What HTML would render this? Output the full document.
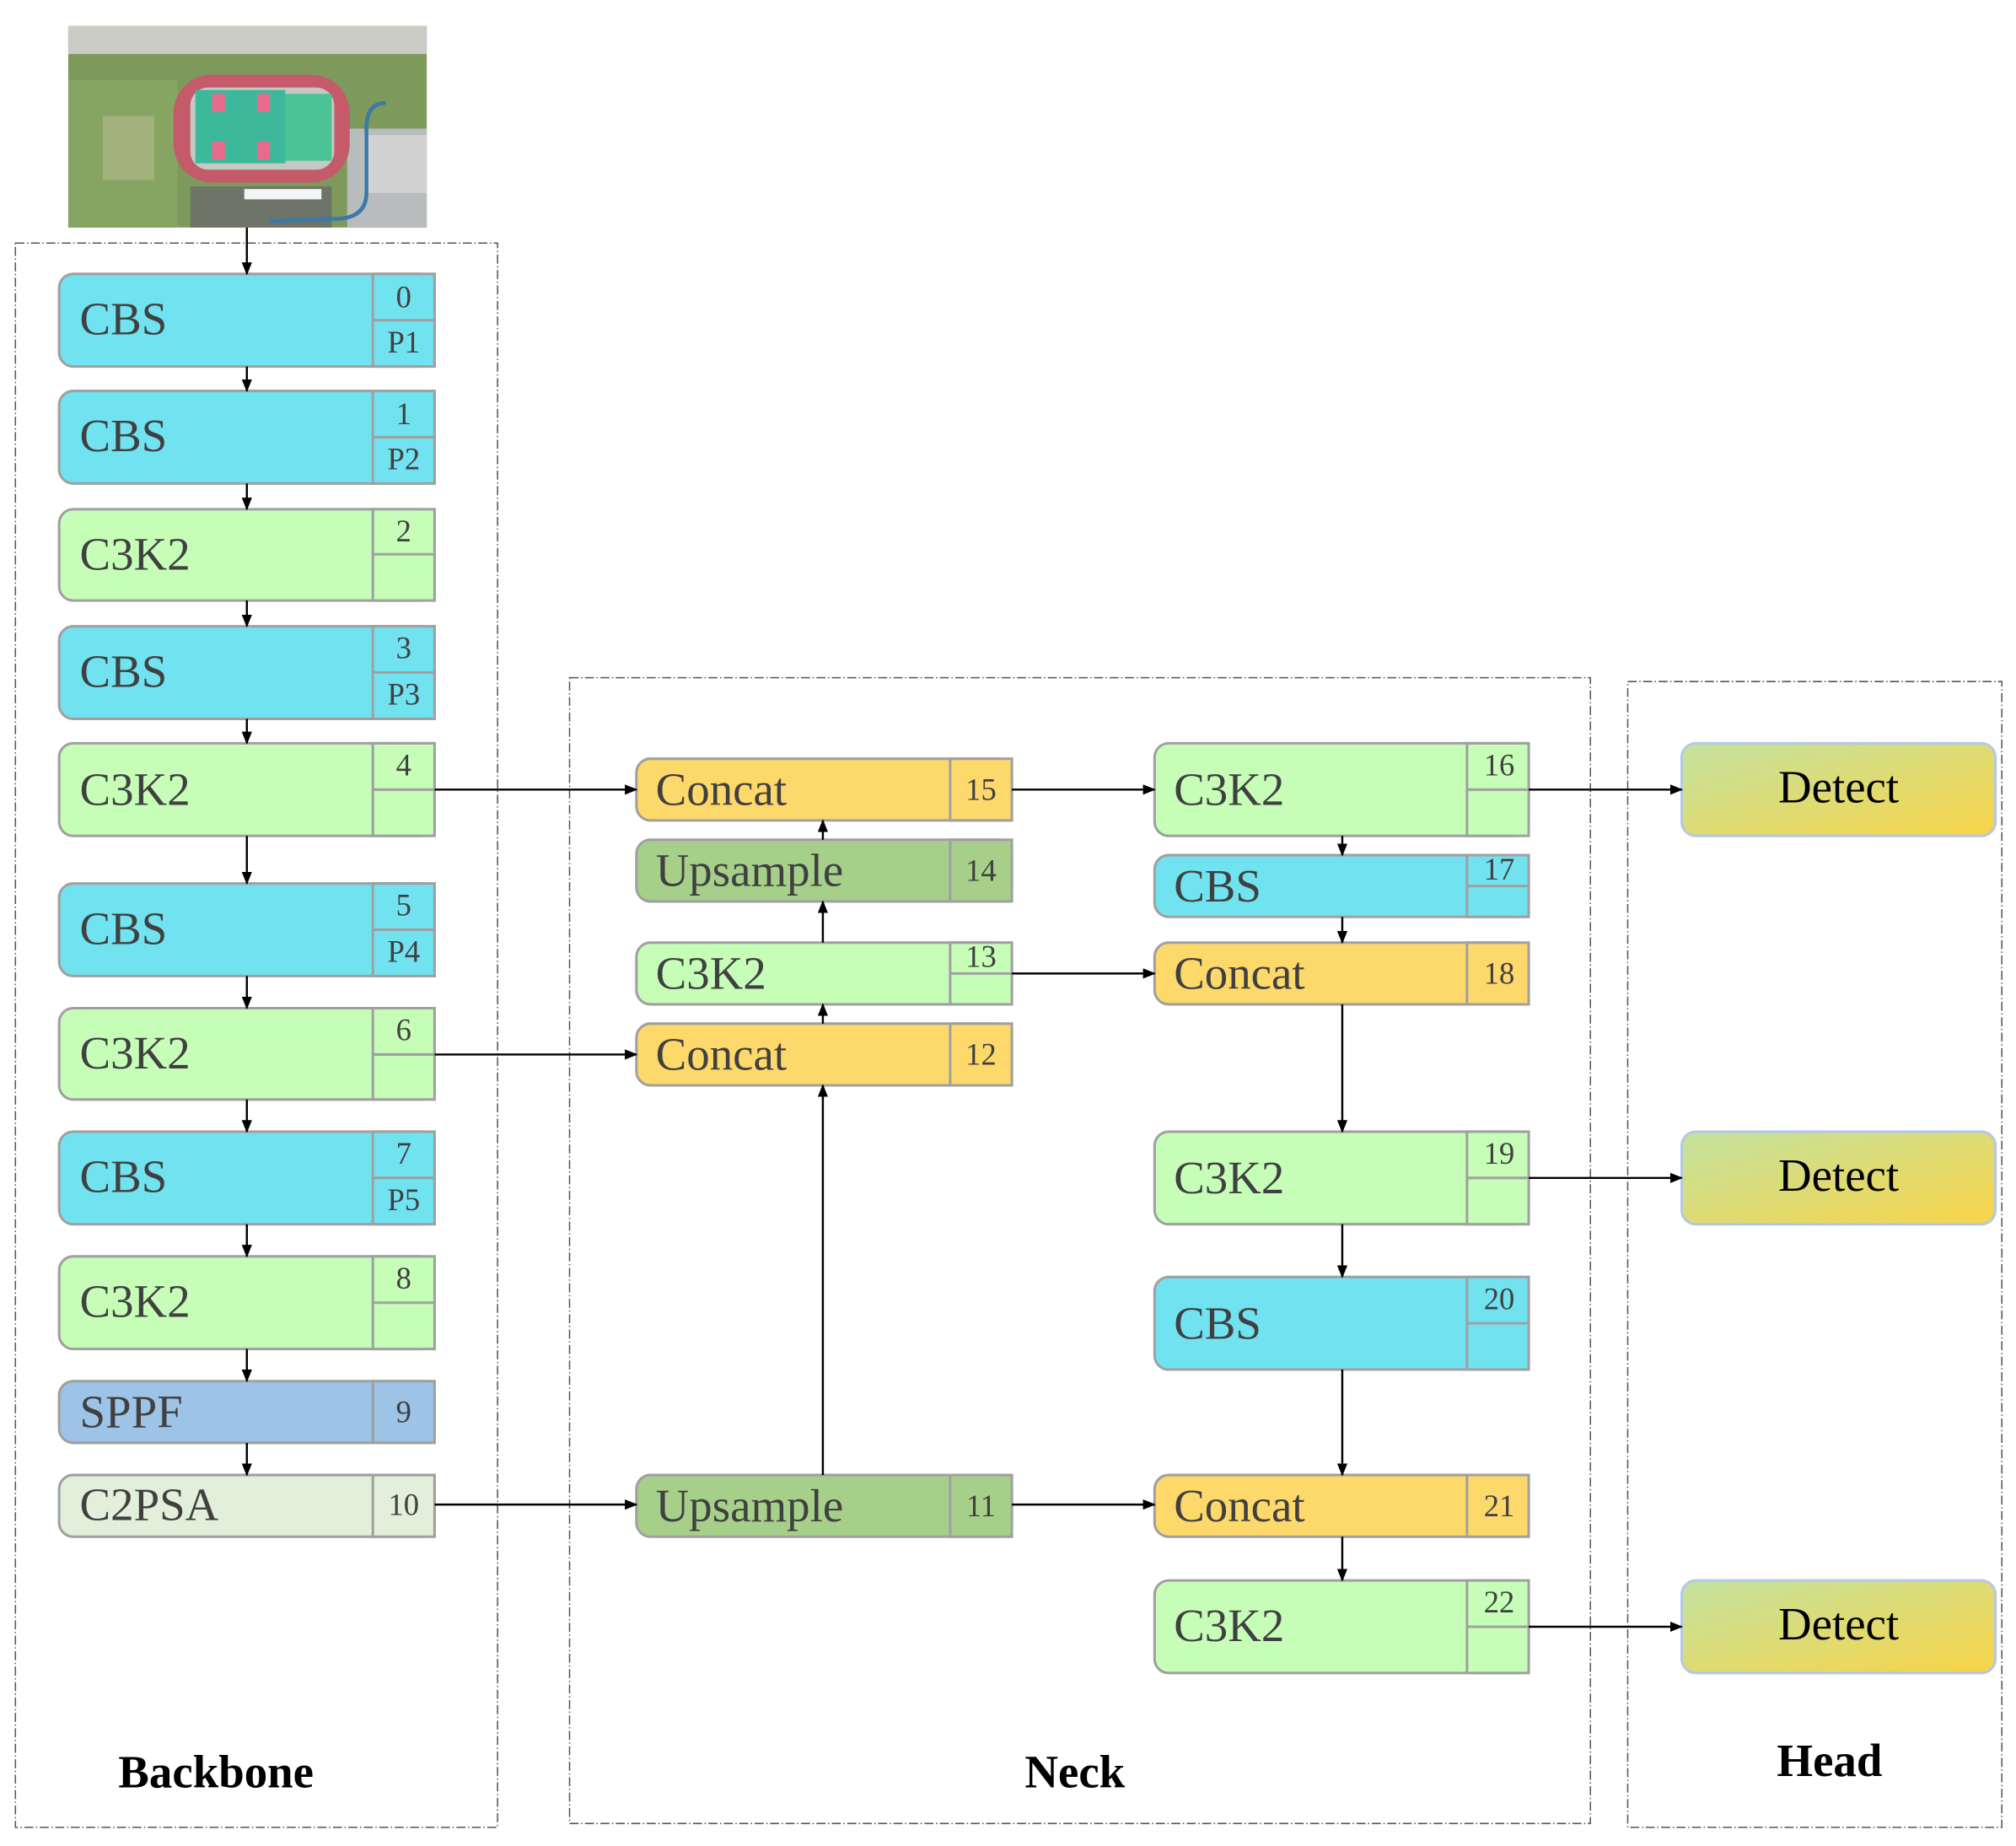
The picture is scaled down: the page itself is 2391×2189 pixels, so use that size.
<!DOCTYPE html>
<html><head><meta charset="utf-8"><style>
html,body{margin:0;padding:0;background:#fff}
svg{display:block}
.t{font-family:"Liberation Serif",serif;fill:#404040;font-size:36px}
.n{font-family:"Liberation Serif",serif;fill:#404040;font-size:24px;text-anchor:middle}
.b{font-family:"Liberation Serif",serif;fill:#000;font-size:36px;font-weight:bold;text-anchor:middle}
.d{font-family:"Liberation Serif",serif;fill:#000;font-size:36px;text-anchor:middle}
.s{stroke:#a0a0a0;stroke-width:2}
.a{stroke:#000;stroke-width:1.6;fill:none;marker-end:url(#ah)}
.g{fill:none;stroke:#555;stroke-width:1;stroke-dasharray:7,2,1,2}
</style></head><body>
<svg width="2391" height="2189" viewBox="0 0 1568 1435.5" preserveAspectRatio="none" xmlns="http://www.w3.org/2000/svg">
<defs>
<marker id="ah" markerWidth="10" markerHeight="8" refX="9" refY="4" orient="auto" markerUnits="userSpaceOnUse"><path d="M0,0 L10,4 L0,8 z" fill="#000"/></marker>
<linearGradient id="dg" x1="0" y1="0" x2="1" y2="1"><stop offset="0" stop-color="#c3e2a0"/><stop offset="1" stop-color="#f8d448"/></linearGradient>
<clipPath id="ic"><rect x="53" y="20" width="279" height="157"/></clipPath>
</defs>
<g clip-path="url(#ic)">
<rect x="53" y="20" width="279" height="157" fill="#7d9a5c"/>
<rect x="53" y="20" width="279" height="22" fill="#c9cbc4"/>
<rect x="53" y="62" width="85" height="115" fill="#86a462"/>
<rect x="80" y="90" width="40" height="50" fill="#a2b27c"/>
<rect x="270" y="100" width="62" height="77" fill="#b8bcbc"/>
<rect x="283" y="105" width="49" height="45" fill="#d2d2d2"/>
<rect x="148" y="145" width="110" height="32" fill="#6f7468"/>
<rect x="190" y="147" width="60" height="8" fill="#f4f4f4"/>
<rect x="135" y="58" width="137" height="84" rx="30" fill="#c45a6a"/>
<rect x="148" y="68" width="112" height="64" rx="14" fill="#c5c9c4"/>
<rect x="152" y="70" width="70" height="57" fill="#3cb89a"/>
<rect x="222" y="73" width="36" height="52" fill="#4cc397"/>
<rect x="165" y="73" width="10" height="14" fill="#e86b8c"/><rect x="200" y="73" width="10" height="14" fill="#e86b8c"/>
<rect x="165" y="110" width="10" height="14" fill="#e86b8c"/><rect x="200" y="110" width="10" height="14" fill="#e86b8c"/>
<path d="M300,80 Q285,80 285,100 L285,150 Q285,168 265,170 L210,172" stroke="#3a79a8" stroke-width="3" fill="none"/>
</g>
<rect class="g" x="12" y="189" width="375" height="1232"/>
<rect class="g" x="443" y="527" width="794" height="891"/>
<rect class="g" x="1266" y="530" width="291" height="891"/>
<text class="b" x="168" y="1390">Backbone</text>
<text class="b" x="836" y="1390">Neck</text>
<text class="b" x="1423" y="1381">Head</text>

<g class="s">
<rect x="46" y="213" width="292" height="72" rx="11" fill="#71e2f0"/><rect x="290" y="213" width="48" height="72" fill="#71e2f0"/><line x1="290" y1="249" x2="338" y2="249"/>
<rect x="46" y="304" width="292" height="72" rx="11" fill="#71e2f0"/><rect x="290" y="304" width="48" height="72" fill="#71e2f0"/><line x1="290" y1="340" x2="338" y2="340"/>
<rect x="46" y="396" width="292" height="71" rx="11" fill="#c6feb8"/><rect x="290" y="396" width="48" height="71" fill="#c6feb8"/><line x1="290" y1="431" x2="338" y2="431"/>
<rect x="46" y="487" width="292" height="72" rx="11" fill="#71e2f0"/><rect x="290" y="487" width="48" height="72" fill="#71e2f0"/><line x1="290" y1="523" x2="338" y2="523"/>
<rect x="46" y="578" width="292" height="72" rx="11" fill="#c6feb8"/><rect x="290" y="578" width="48" height="72" fill="#c6feb8"/><line x1="290" y1="614" x2="338" y2="614"/>
<rect x="46" y="687" width="292" height="72" rx="11" fill="#71e2f0"/><rect x="290" y="687" width="48" height="72" fill="#71e2f0"/><line x1="290" y1="723" x2="338" y2="723"/>
<rect x="46" y="784" width="292" height="71" rx="11" fill="#c6feb8"/><rect x="290" y="784" width="48" height="71" fill="#c6feb8"/><line x1="290" y1="820" x2="338" y2="820"/>
<rect x="46" y="880" width="292" height="72" rx="11" fill="#71e2f0"/><rect x="290" y="880" width="48" height="72" fill="#71e2f0"/><line x1="290" y1="916" x2="338" y2="916"/>
<rect x="46" y="977" width="292" height="72" rx="11" fill="#c6feb8"/><rect x="290" y="977" width="48" height="72" fill="#c6feb8"/><line x1="290" y1="1013" x2="338" y2="1013"/>
<rect x="46" y="1074" width="292" height="48" rx="11" fill="#9dc3e6"/><rect x="290" y="1074" width="48" height="48" fill="#9dc3e6"/>
<rect x="46" y="1147" width="292" height="48" rx="11" fill="#e2efda"/><rect x="290" y="1147" width="48" height="48" fill="#e2efda"/>
</g>
<text class="t" x="62" y="260">CBS</text><text class="n" x="314" y="239">0</text><text class="n" x="314" y="274">P1</text>
<text class="t" x="62" y="351">CBS</text><text class="n" x="314" y="330">1</text><text class="n" x="314" y="365">P2</text>
<text class="t" x="62" y="443">C3K2</text><text class="n" x="314" y="421">2</text>
<text class="t" x="62" y="534">CBS</text><text class="n" x="314" y="512">3</text><text class="n" x="314" y="548">P3</text>
<text class="t" x="62" y="626">C3K2</text><text class="n" x="314" y="603">4</text>
<text class="t" x="62" y="734">CBS</text><text class="n" x="314" y="712">5</text><text class="n" x="314" y="748">P4</text>
<text class="t" x="62" y="831">C3K2</text><text class="n" x="314" y="809">6</text>
<text class="t" x="62" y="927">CBS</text><text class="n" x="314" y="905">7</text><text class="n" x="314" y="941">P5</text>
<text class="t" x="62" y="1024">C3K2</text><text class="n" x="314" y="1002">8</text>
<text class="t" x="62" y="1110">SPPF</text><text class="n" x="314" y="1106">9</text>
<text class="t" x="62" y="1182">C2PSA</text><text class="n" x="314" y="1178">10</text>

<g class="s">
<rect x="495" y="590" width="292" height="48" rx="11" fill="#fdd86a"/><rect x="739" y="590" width="48" height="48" fill="#fdd86a"/>
<rect x="495" y="653" width="292" height="48" rx="11" fill="#a6d08a"/><rect x="739" y="653" width="48" height="48" fill="#a6d08a"/>
<rect x="495" y="733" width="292" height="48" rx="11" fill="#c6feb8"/><rect x="739" y="733" width="48" height="48" fill="#c6feb8"/><line x1="739" y1="757" x2="787" y2="757"/>
<rect x="495" y="796" width="292" height="48" rx="11" fill="#fdd86a"/><rect x="739" y="796" width="48" height="48" fill="#fdd86a"/>
<rect x="495" y="1147" width="292" height="48" rx="11" fill="#a6d08a"/><rect x="739" y="1147" width="48" height="48" fill="#a6d08a"/>
</g>
<text class="t" x="510" y="626">Concat</text><text class="n" x="763" y="622">15</text>
<text class="t" x="510" y="689">Upsample</text><text class="n" x="763" y="685">14</text>
<text class="t" x="510" y="769">C3K2</text><text class="n" x="763" y="752">13</text>
<text class="t" x="510" y="832">Concat</text><text class="n" x="763" y="828">12</text>
<text class="t" x="510" y="1183">Upsample</text><text class="n" x="763" y="1179">11</text>

<g class="s">
<rect x="898" y="578" width="291" height="72" rx="11" fill="#c6feb8"/><rect x="1141" y="578" width="48" height="72" fill="#c6feb8"/><line x1="1141" y1="614" x2="1189" y2="614"/>
<rect x="898" y="665" width="291" height="48" rx="11" fill="#71e2f0"/><rect x="1141" y="665" width="48" height="48" fill="#71e2f0"/><line x1="1141" y1="689" x2="1189" y2="689"/>
<rect x="898" y="733" width="291" height="48" rx="11" fill="#fdd86a"/><rect x="1141" y="733" width="48" height="48" fill="#fdd86a"/>
<rect x="898" y="880" width="291" height="72" rx="11" fill="#c6feb8"/><rect x="1141" y="880" width="48" height="72" fill="#c6feb8"/><line x1="1141" y1="916" x2="1189" y2="916"/>
<rect x="898" y="993" width="291" height="72" rx="11" fill="#71e2f0"/><rect x="1141" y="993" width="48" height="72" fill="#71e2f0"/><line x1="1141" y1="1029" x2="1189" y2="1029"/>
<rect x="898" y="1147" width="291" height="48" rx="11" fill="#fdd86a"/><rect x="1141" y="1147" width="48" height="48" fill="#fdd86a"/>
<rect x="898" y="1229" width="291" height="72" rx="11" fill="#c6feb8"/><rect x="1141" y="1229" width="48" height="72" fill="#c6feb8"/><line x1="1141" y1="1265" x2="1189" y2="1265"/>
</g>
<text class="t" x="913" y="626">C3K2</text><text class="n" x="1166" y="603">16</text>
<text class="t" x="913" y="701">CBS</text><text class="n" x="1166" y="684">17</text>
<text class="t" x="913" y="769">Concat</text><text class="n" x="1166" y="765">18</text>
<text class="t" x="913" y="928">C3K2</text><text class="n" x="1166" y="905">19</text>
<text class="t" x="913" y="1041">CBS</text><text class="n" x="1166" y="1018">20</text>
<text class="t" x="913" y="1183">Concat</text><text class="n" x="1166" y="1179">21</text>
<text class="t" x="913" y="1276">C3K2</text><text class="n" x="1166" y="1254">22</text>

<g stroke="#b4c8e6" stroke-width="2" fill="url(#dg)">
<rect x="1308" y="578" width="244" height="72" rx="11"/>
<rect x="1308" y="880" width="244" height="72" rx="11"/>
<rect x="1308" y="1229" width="244" height="72" rx="11"/>
</g>
<text class="d" x="1430" y="624">Detect</text>
<text class="d" x="1430" y="926">Detect</text>
<text class="d" x="1430" y="1275">Detect</text>

<line class="a" x1="192" y1="177" x2="192" y2="213"/>
<line class="a" x1="192" y1="285" x2="192" y2="304"/>
<line class="a" x1="192" y1="376" x2="192" y2="396"/>
<line class="a" x1="192" y1="467" x2="192" y2="487"/>
<line class="a" x1="192" y1="559" x2="192" y2="578"/>
<line class="a" x1="192" y1="650" x2="192" y2="687"/>
<line class="a" x1="192" y1="759" x2="192" y2="784"/>
<line class="a" x1="192" y1="855" x2="192" y2="880"/>
<line class="a" x1="192" y1="952" x2="192" y2="977"/>
<line class="a" x1="192" y1="1049" x2="192" y2="1074"/>
<line class="a" x1="192" y1="1122" x2="192" y2="1147"/>
<line class="a" x1="338" y1="614" x2="495" y2="614"/>
<line class="a" x1="338" y1="820" x2="495" y2="820"/>
<line class="a" x1="338" y1="1170" x2="495" y2="1170"/>
<line class="a" x1="640" y1="1147" x2="640" y2="844"/>
<line class="a" x1="640" y1="796" x2="640" y2="781"/>
<line class="a" x1="640" y1="733" x2="640" y2="701"/>
<line class="a" x1="640" y1="653" x2="640" y2="638"/>
<line class="a" x1="787" y1="614" x2="898" y2="614"/>
<line class="a" x1="787" y1="757" x2="898" y2="757"/>
<line class="a" x1="787" y1="1170" x2="898" y2="1170"/>
<line class="a" x1="1044" y1="650" x2="1044" y2="665"/>
<line class="a" x1="1044" y1="713" x2="1044" y2="733"/>
<line class="a" x1="1044" y1="781" x2="1044" y2="880"/>
<line class="a" x1="1044" y1="952" x2="1044" y2="993"/>
<line class="a" x1="1044" y1="1065" x2="1044" y2="1147"/>
<line class="a" x1="1044" y1="1195" x2="1044" y2="1229"/>
<line class="a" x1="1189" y1="614" x2="1308" y2="614"/>
<line class="a" x1="1189" y1="916" x2="1308" y2="916"/>
<line class="a" x1="1189" y1="1265" x2="1308" y2="1265"/>
</svg>
</body></html>
